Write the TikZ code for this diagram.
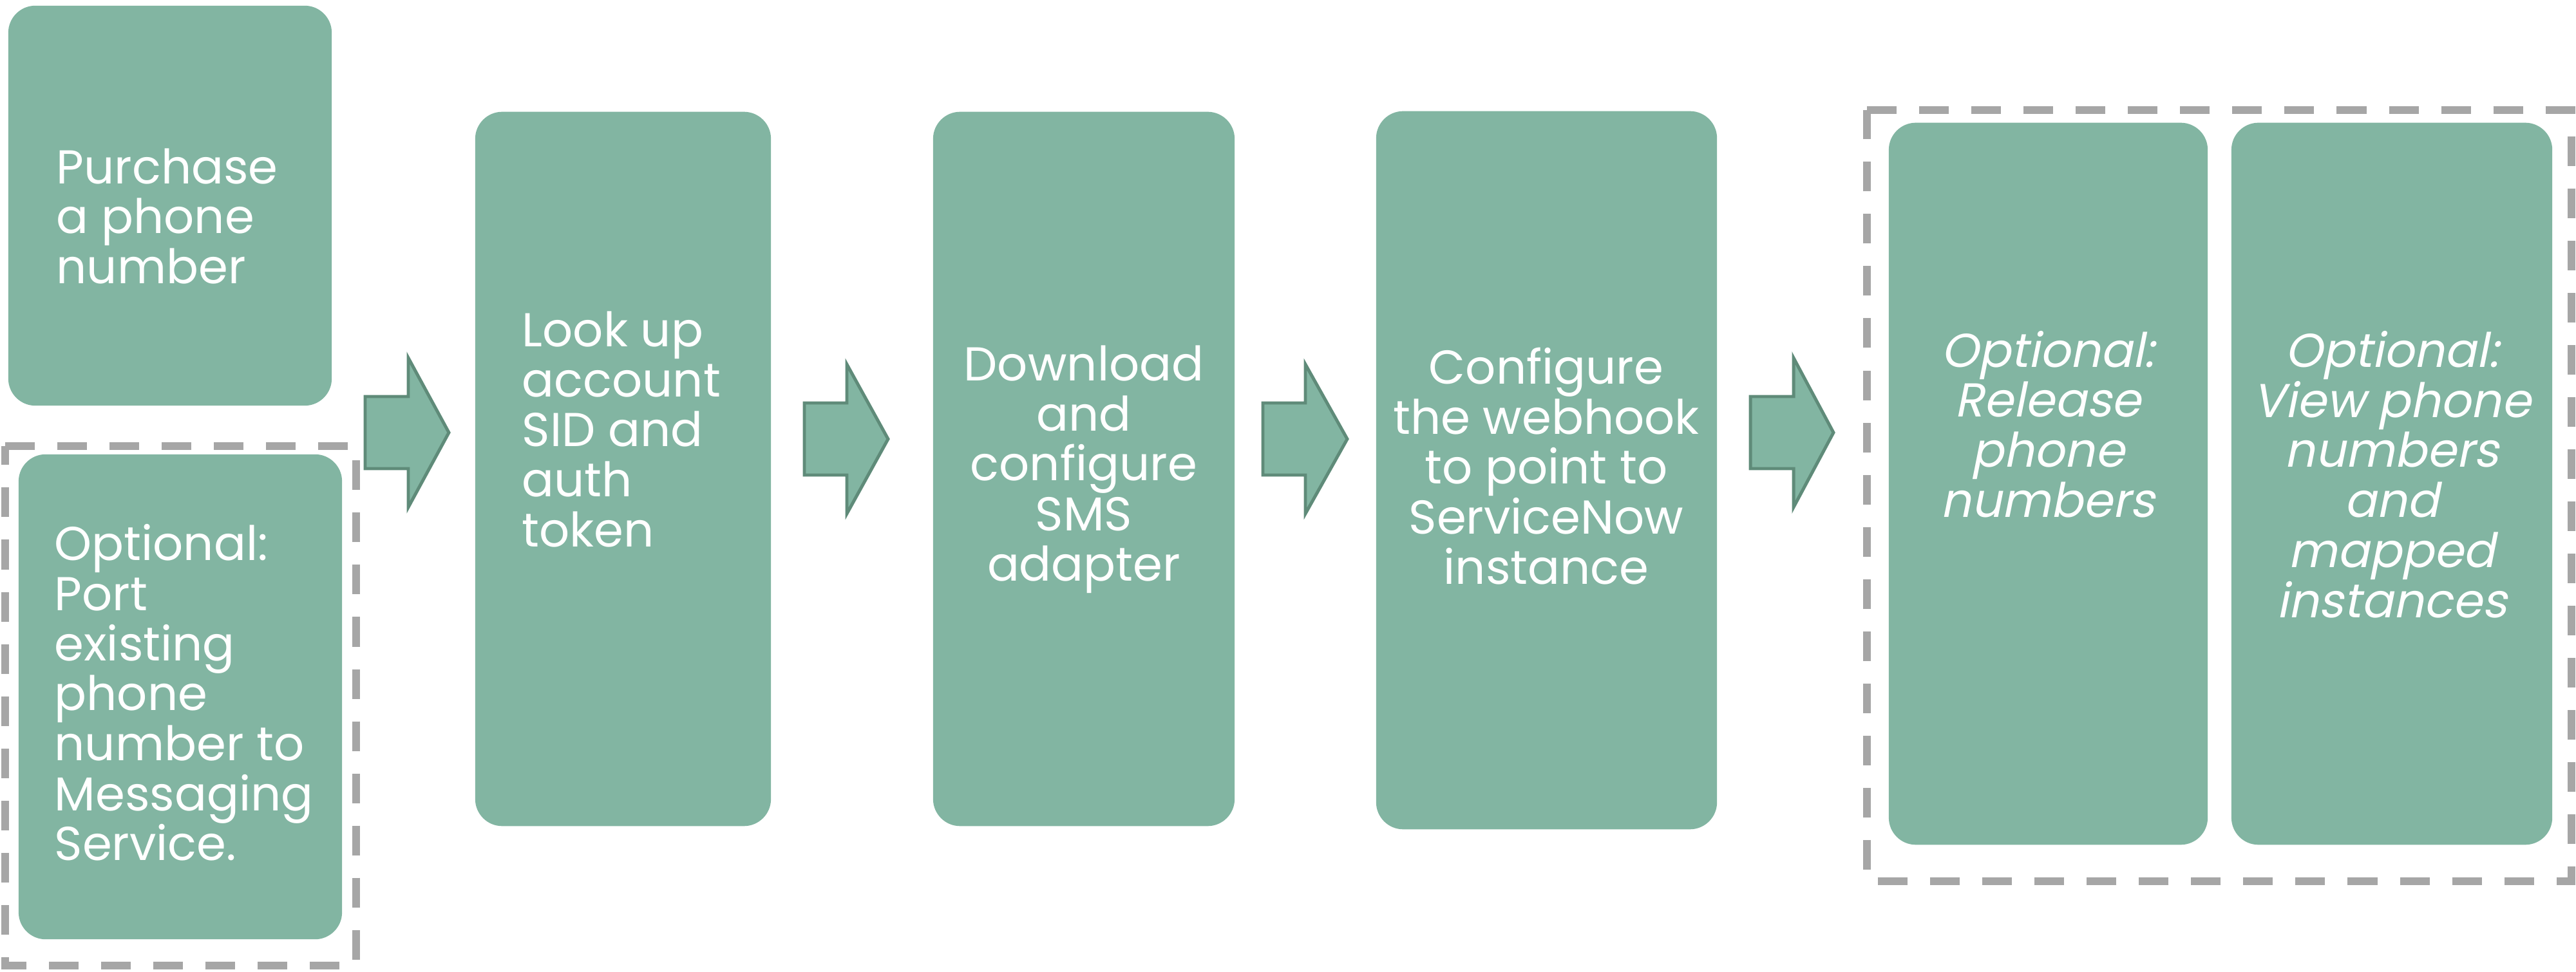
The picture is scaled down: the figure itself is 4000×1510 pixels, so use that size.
\documentclass[tikz,border=0pt]{standalone}
\usepackage{fontspec}
\setmainfont{Poppins}[AutoFakeSlant=0.2]
\definecolor{boxfill}{HTML}{82B5A2}
\definecolor{arrline}{HTML}{5F8B79}
\definecolor{dashgray}{HTML}{A6A6A6}
\tikzset{
  stepbox/.style={fill=boxfill, draw=none, rounded corners=0.42cm, inner sep=0pt},
  txt/.style={text=white, inner sep=0pt, font=\fontsize{21pt}{22.1pt}\selectfont},
  blockarr/.style={fill=boxfill, draw=arrline, line width=1.4pt, line join=miter},
  optframe/.style={draw=dashgray, line width=3.3pt, dash pattern=on 0.46cm off 0.35cm, line cap=butt, line join=miter}
}
\newcommand\myblockarrow[5]{%
  \coordinate (#1-tail) at (#2,#5);
  \coordinate (#1-tip) at (#4,#5);
  \draw[blockarr] (#2,{#5-56}) -- (#3,{#5-56}) -- (#3,{#5-116}) -- (#1-tip)
     -- (#3,{#5+116}) -- (#3,{#5+56}) -- (#2,{#5+56}) -- cycle;
}
\begin{document}
\begin{tikzpicture}[x=0.01cm,y=-0.01cm]
\useasboundingbox (0,0) rectangle (4000,1510);

% dashed frames for optional steps
\draw[optframe] (8,693) -- (553,693) -- (553,1500) -- (8,1500) -- cycle;
\draw[optframe] (2899,171) -- (3993,171) -- (3993,1369) -- (2899,1369) -- cycle;

% boxes
\node[stepbox, minimum width=5.02cm, minimum height=6.21cm] (b1) at (264,319.5) {};
\node[stepbox, minimum width=5.02cm, minimum height=7.53cm] (b2) at (280,1082.5) {};
\node[stepbox, minimum width=4.59cm, minimum height=11.09cm] (b3) at (967.5,728.5) {};
\node[stepbox, minimum width=4.68cm, minimum height=11.09cm] (b4) at (1683,728.5) {};
\node[stepbox, minimum width=5.29cm, minimum height=11.15cm] (b5) at (2401.5,730.5) {};
\node[stepbox, minimum width=4.95cm, minimum height=11.21cm] (b6) at (3180.5,751.5) {};
\node[stepbox, minimum width=4.98cm, minimum height=11.21cm] (b7) at (3714,751.5) {};

% texts
\node[txt, anchor=west, align=left] (t1) at (87,336) {Purchase\\a phone\\number};
\node[txt, anchor=west, align=left] (t2) at (84,1076) {Optional:\\Port\\existing\\phone\\number to\\Messaging\\Service.};
\node[txt, anchor=west, align=left] (t3) at (810,667) {Look up\\account\\SID and\\auth\\token};
\node[txt, align=center] (t4) at (1683,729) {Download\\and\\configure\\SMS\\adapter};
\node[txt, align=center] (t5) at (2401,724) {Configure\\the webhook\\to point to\\ServiceNow\\instance};
\node[txt, align=center, font=\fontsize{21pt}{22.1pt}\selectfont\itshape] (t6) at (3180,659) {Optional:\\Release\\phone\\numbers};
\node[txt, align=center, font=\fontsize{21pt}{22.1pt}\selectfont\itshape] (t7) at (3714,737) {Optional:\\View phone\\numbers\\and\\mapped\\instances};

% block arrows between steps
\myblockarrow{a1}{567}{634}{697}{672}
\myblockarrow{a2}{1249}{1315}{1379}{682}
\myblockarrow{a3}{1961}{2027}{2092}{682}
\myblockarrow{a4}{2718}{2785}{2847}{672}
\end{tikzpicture}
\end{document}
